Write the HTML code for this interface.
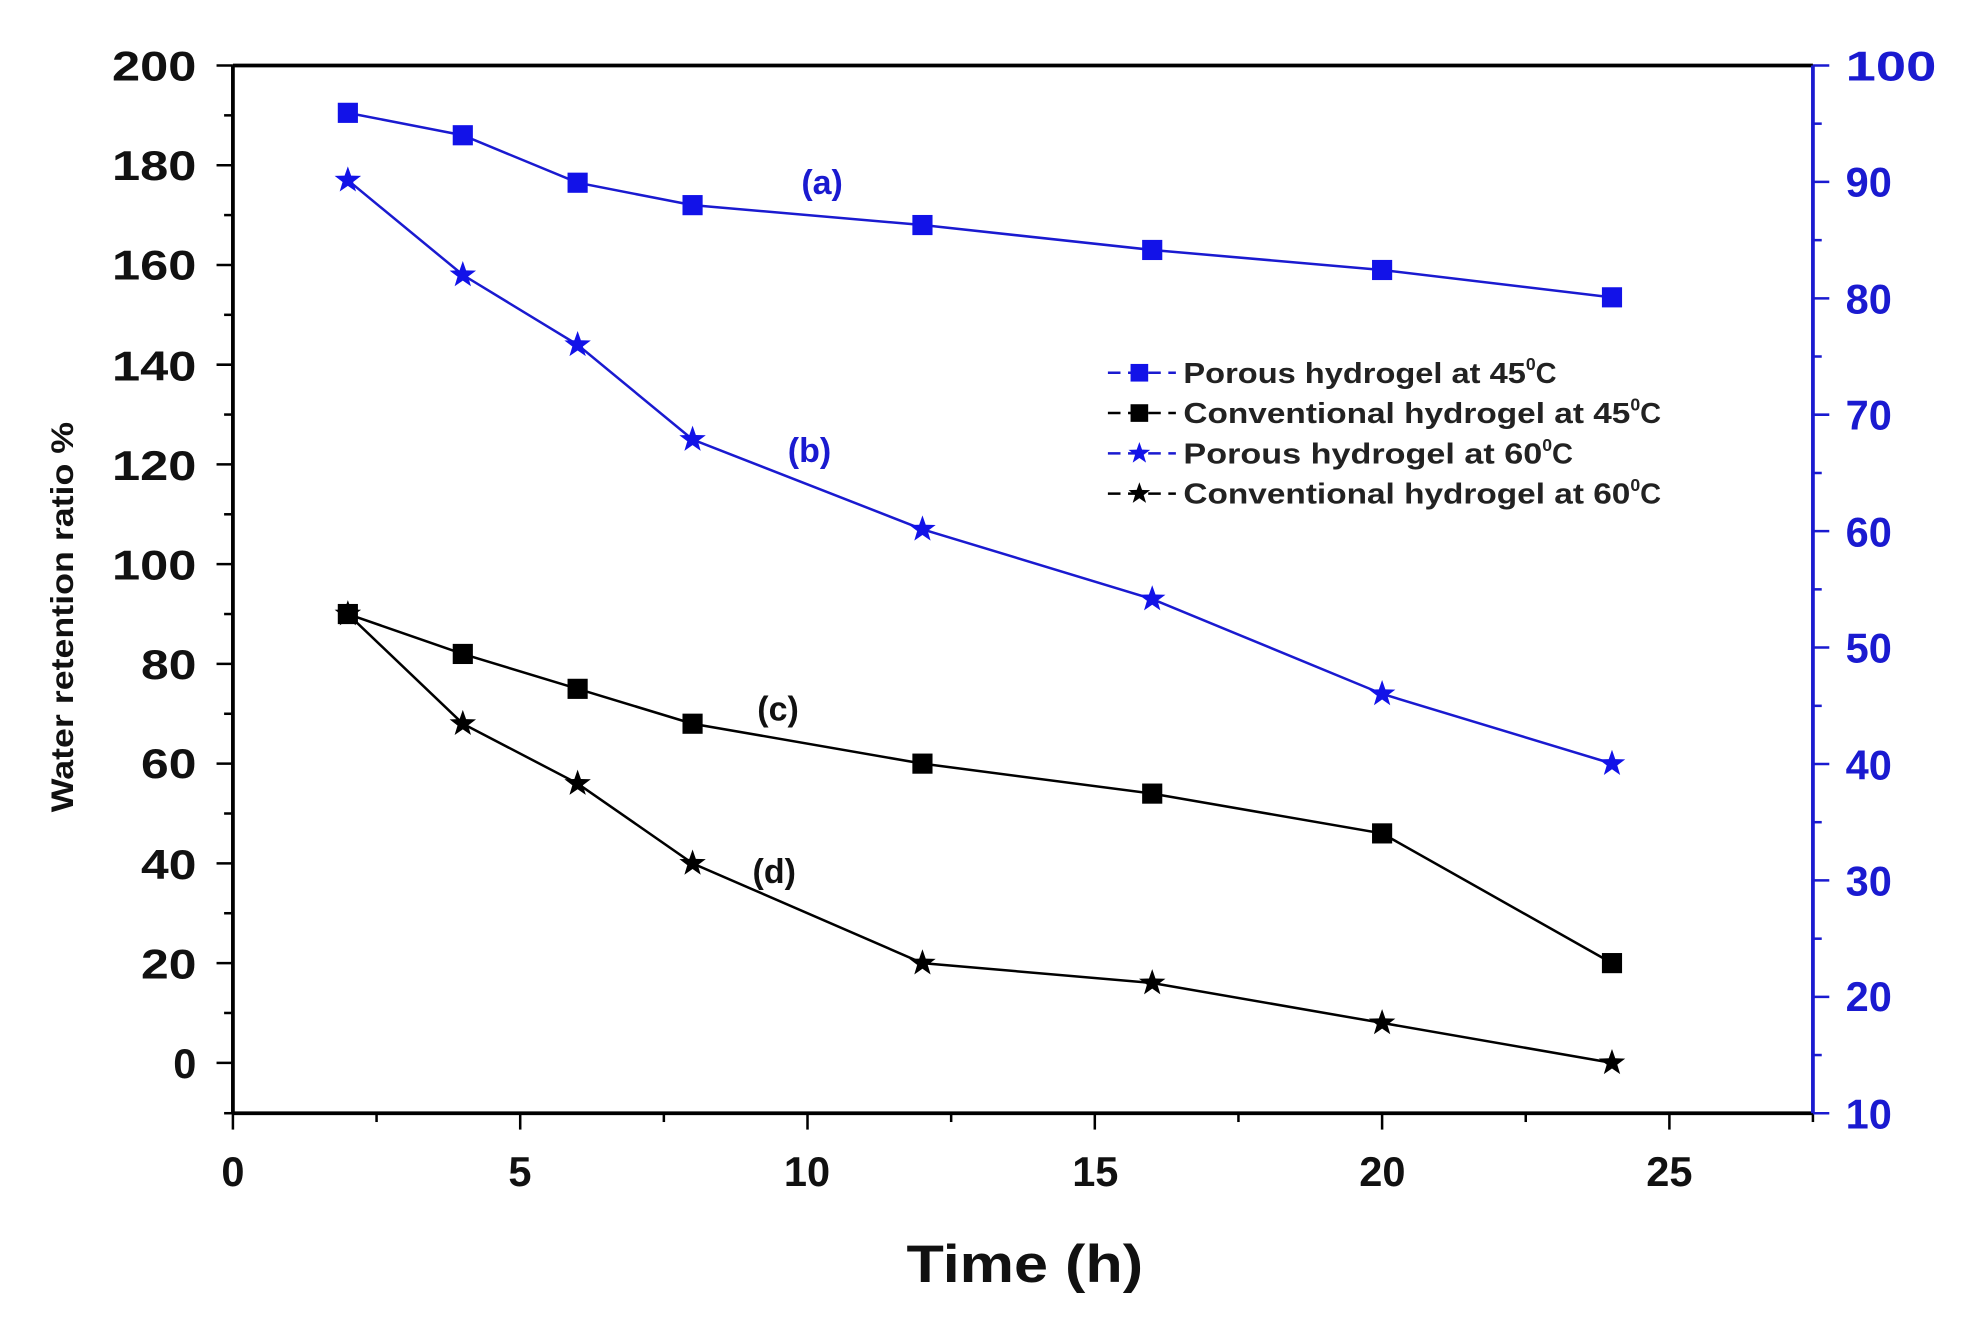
<!DOCTYPE html>
<html><head><style>
html,body{margin:0;padding:0;background:#fff;}
svg{display:block;}
text{font-family:"Liberation Sans",Arial,sans-serif;}
</style></head><body>
<svg width="1964" height="1321" viewBox="0 0 1560 1049" preserveAspectRatio="none" xmlns="http://www.w3.org/2000/svg">
<defs>
<symbol id="sq" viewBox="-8 -8 16 16" overflow="visible"><rect x="-8" y="-8" width="16" height="16"/></symbol>
<symbol id="st" viewBox="-11 -11 22 22" overflow="visible"><polygon points="0,-11 2.6,-3.6 10.5,-3.4 4.2,1.4 6.5,9 0,4.5 -6.5,9 -4.2,1.4 -10.5,-3.4 -2.6,-3.6"/></symbol>
</defs>
<g stroke="#000" stroke-width="3" fill="none">
<line x1="185" y1="52" x2="1440" y2="52"/>
<line x1="185" y1="52" x2="185" y2="884"/>
<line x1="185" y1="884" x2="1440" y2="884"/>
</g>
<line x1="1440" y1="52" x2="1440" y2="884" stroke="#1a1ad0" stroke-width="3"/>
<g stroke="#000" stroke-width="2">
<line x1="172" y1="844" x2="185" y2="844"/><line x1="172" y1="764.8" x2="185" y2="764.8"/><line x1="172" y1="685.6" x2="185" y2="685.6"/><line x1="172" y1="606.4" x2="185" y2="606.4"/><line x1="172" y1="527.2" x2="185" y2="527.2"/><line x1="172" y1="448" x2="185" y2="448"/><line x1="172" y1="368.8" x2="185" y2="368.8"/><line x1="172" y1="289.6" x2="185" y2="289.6"/><line x1="172" y1="210.4" x2="185" y2="210.4"/><line x1="172" y1="131.2" x2="185" y2="131.2"/><line x1="172" y1="52" x2="185" y2="52"/>
<line x1="178" y1="884" x2="185" y2="884"/><line x1="178" y1="804.4" x2="185" y2="804.4"/><line x1="178" y1="725.2" x2="185" y2="725.2"/><line x1="178" y1="646" x2="185" y2="646"/><line x1="178" y1="566.8" x2="185" y2="566.8"/><line x1="178" y1="487.6" x2="185" y2="487.6"/><line x1="178" y1="408.4" x2="185" y2="408.4"/><line x1="178" y1="329.2" x2="185" y2="329.2"/><line x1="178" y1="250" x2="185" y2="250"/><line x1="178" y1="170.8" x2="185" y2="170.8"/><line x1="178" y1="91.6" x2="185" y2="91.6"/>
<line x1="185" y1="884" x2="185" y2="897"/><line x1="413.2" y1="884" x2="413.2" y2="897"/><line x1="641.4" y1="884" x2="641.4" y2="897"/><line x1="869.6" y1="884" x2="869.6" y2="897"/><line x1="1097.8" y1="884" x2="1097.8" y2="897"/><line x1="1326" y1="884" x2="1326" y2="897"/>
<line x1="299.1" y1="884" x2="299.1" y2="891"/><line x1="527.3" y1="884" x2="527.3" y2="891"/><line x1="755.5" y1="884" x2="755.5" y2="891"/><line x1="983.7" y1="884" x2="983.7" y2="891"/><line x1="1211.9" y1="884" x2="1211.9" y2="891"/><line x1="1440" y1="884" x2="1440" y2="891"/>
</g>
<g stroke="#1a1ad0" stroke-width="2">
<line x1="1440" y1="52" x2="1453" y2="52"/><line x1="1440" y1="144.4" x2="1453" y2="144.4"/><line x1="1440" y1="236.9" x2="1453" y2="236.9"/><line x1="1440" y1="329.3" x2="1453" y2="329.3"/><line x1="1440" y1="421.8" x2="1453" y2="421.8"/><line x1="1440" y1="514.2" x2="1453" y2="514.2"/><line x1="1440" y1="606.7" x2="1453" y2="606.7"/><line x1="1440" y1="699.1" x2="1453" y2="699.1"/><line x1="1440" y1="791.6" x2="1453" y2="791.6"/><line x1="1440" y1="884" x2="1453" y2="884"/>
<line x1="1440" y1="98.2" x2="1447" y2="98.2"/><line x1="1440" y1="190.7" x2="1447" y2="190.7"/><line x1="1440" y1="283.1" x2="1447" y2="283.1"/><line x1="1440" y1="375.6" x2="1447" y2="375.6"/><line x1="1440" y1="468" x2="1447" y2="468"/><line x1="1440" y1="560.5" x2="1447" y2="560.5"/><line x1="1440" y1="652.9" x2="1447" y2="652.9"/><line x1="1440" y1="745.4" x2="1447" y2="745.4"/><line x1="1440" y1="837.8" x2="1447" y2="837.8"/>
</g>
<g font-size="33" font-weight="bold" fill="#111" text-anchor="end">
<text x="156" y="856">0</text><text x="156" y="777" textLength="44" lengthAdjust="spacingAndGlyphs">20</text><text x="156" y="698" textLength="44" lengthAdjust="spacingAndGlyphs">40</text><text x="156" y="618" textLength="44" lengthAdjust="spacingAndGlyphs">60</text><text x="156" y="539" textLength="44" lengthAdjust="spacingAndGlyphs">80</text><text x="156" y="460" textLength="67" lengthAdjust="spacingAndGlyphs">100</text><text x="156" y="381" textLength="67" lengthAdjust="spacingAndGlyphs">120</text><text x="156" y="302" textLength="67" lengthAdjust="spacingAndGlyphs">140</text><text x="156" y="222" textLength="67" lengthAdjust="spacingAndGlyphs">160</text><text x="156" y="143" textLength="67" lengthAdjust="spacingAndGlyphs">180</text><text x="156" y="64" textLength="67" lengthAdjust="spacingAndGlyphs">200</text>
</g>
<g font-size="33" font-weight="bold" fill="#1a1ad0" text-anchor="start">
<text x="1466" y="64" textLength="72" lengthAdjust="spacingAndGlyphs">100</text><text x="1466" y="156">90</text><text x="1466" y="249">80</text><text x="1466" y="341">70</text><text x="1466" y="434">60</text><text x="1466" y="526">50</text><text x="1466" y="619">40</text><text x="1466" y="711">30</text><text x="1466" y="803">20</text><text x="1466" y="896">10</text>
</g>
<g font-size="33" font-weight="bold" fill="#111" text-anchor="middle">
<text x="185" y="942">0</text><text x="413" y="942">5</text><text x="641" y="942">10</text><text x="870" y="942">15</text><text x="1098" y="942">20</text><text x="1326" y="942">25</text>
</g>
<text x="720" y="1018" font-size="42" font-weight="bold" fill="#111" textLength="188" lengthAdjust="spacingAndGlyphs">Time (h)</text>
<text transform="translate(58,645) rotate(-90)" font-size="25" font-weight="bold" fill="#111" textLength="310" lengthAdjust="spacingAndGlyphs">Water retention ratio %</text>
<g fill="none" stroke-width="2">
<polyline stroke="#1a1ad0" points="276.3,89.6 367.6,107.4 458.8,145.1 550.1,162.9 732.7,178.7 915.2,198.5 1097.8,214.4 1280.4,236.1"/>
<polyline stroke="#1a1ad0" points="276.3,143.1 367.6,218.3 458.8,273.8 550.1,349 732.7,420.3 915.2,475.7 1097.8,551 1280.4,606.4"/>
<polyline stroke="#000" points="276.3,487.6 367.6,519.3 458.8,547 550.1,574.7 732.7,606.4 915.2,630.2 1097.8,661.8 1280.4,764.8"/>
<polyline stroke="#000" points="276.3,487.6 367.6,574.7 458.8,622.2 550.1,685.6 732.7,764.8 915.2,780.6 1097.8,812.3 1280.4,844"/>
</g>
<g fill="#1212e8">
<use href="#sq" x="268.3" y="81.6" width="16" height="16"/><use href="#sq" x="359.6" y="99.4" width="16" height="16"/><use href="#sq" x="450.8" y="137.1" width="16" height="16"/><use href="#sq" x="542.1" y="154.9" width="16" height="16"/><use href="#sq" x="724.7" y="170.7" width="16" height="16"/><use href="#sq" x="907.2" y="190.5" width="16" height="16"/><use href="#sq" x="1089.8" y="206.4" width="16" height="16"/><use href="#sq" x="1272.4" y="228.1" width="16" height="16"/>
<use href="#st" x="265.3" y="132.1" width="22" height="22"/><use href="#st" x="356.6" y="207.3" width="22" height="22"/><use href="#st" x="447.8" y="262.8" width="22" height="22"/><use href="#st" x="539.1" y="338" width="22" height="22"/><use href="#st" x="721.7" y="409.3" width="22" height="22"/><use href="#st" x="904.2" y="464.7" width="22" height="22"/><use href="#st" x="1086.8" y="540" width="22" height="22"/><use href="#st" x="1269.4" y="595.4" width="22" height="22"/>
</g>
<g fill="#000">
<use href="#sq" x="268.3" y="479.6" width="16" height="16"/><use href="#sq" x="359.6" y="511.3" width="16" height="16"/><use href="#sq" x="450.8" y="539" width="16" height="16"/><use href="#sq" x="542.1" y="566.7" width="16" height="16"/><use href="#sq" x="724.7" y="598.4" width="16" height="16"/><use href="#sq" x="907.2" y="622.2" width="16" height="16"/><use href="#sq" x="1089.8" y="653.8" width="16" height="16"/><use href="#sq" x="1272.4" y="756.8" width="16" height="16"/>
<use href="#st" x="265.3" y="476.6" width="22" height="22"/><use href="#st" x="356.6" y="563.7" width="22" height="22"/><use href="#st" x="447.8" y="611.2" width="22" height="22"/><use href="#st" x="539.1" y="674.6" width="22" height="22"/><use href="#st" x="721.7" y="753.8" width="22" height="22"/><use href="#st" x="904.2" y="769.6" width="22" height="22"/><use href="#st" x="1086.8" y="801.3" width="22" height="22"/><use href="#st" x="1269.4" y="833" width="22" height="22"/>
</g>
<g font-size="27" font-weight="bold" text-anchor="middle">
<text x="653" y="154" fill="#1a1ad0">(a)</text>
<text x="643" y="367" fill="#1a1ad0">(b)</text>
<text x="618" y="572" fill="#111">(c)</text>
<text x="615" y="701" fill="#111">(d)</text>
</g>
<g stroke-width="2">
<line x1="880" y1="296" x2="934" y2="296" stroke="#1a1ad0" stroke-dasharray="10,6"/>
<line x1="880" y1="328" x2="934" y2="328" stroke="#000" stroke-dasharray="10,6"/>
<line x1="880" y1="360" x2="934" y2="360" stroke="#1a1ad0" stroke-dasharray="10,6"/>
<line x1="880" y1="392" x2="934" y2="392" stroke="#000" stroke-dasharray="10,6"/>
</g>
<use href="#sq" x="898" y="289" width="14" height="14" fill="#1212e8"/>
<use href="#sq" x="898" y="321" width="14" height="14" fill="#000"/>
<use href="#st" x="896" y="351" width="18" height="18" fill="#1212e8"/>
<use href="#st" x="896" y="383" width="18" height="18" fill="#000"/>
<g font-size="23" font-weight="bold" fill="#222">
<text x="940" y="304"><tspan textLength="272" lengthAdjust="spacingAndGlyphs">Porous hydrogel at 45</tspan><tspan font-size="14" dy="-10">0</tspan><tspan dy="10">C</tspan></text>
<text x="940" y="336"><tspan textLength="355" lengthAdjust="spacingAndGlyphs">Conventional hydrogel at 45</tspan><tspan font-size="14" dy="-10">0</tspan><tspan dy="10">C</tspan></text>
<text x="940" y="368"><tspan textLength="285" lengthAdjust="spacingAndGlyphs">Porous hydrogel  at 60</tspan><tspan font-size="14" dy="-10">0</tspan><tspan dy="10">C</tspan></text>
<text x="940" y="400"><tspan textLength="355" lengthAdjust="spacingAndGlyphs">Conventional hydrogel at 60</tspan><tspan font-size="14" dy="-10">0</tspan><tspan dy="10">C</tspan></text>
</g>
</svg>
</body></html>
